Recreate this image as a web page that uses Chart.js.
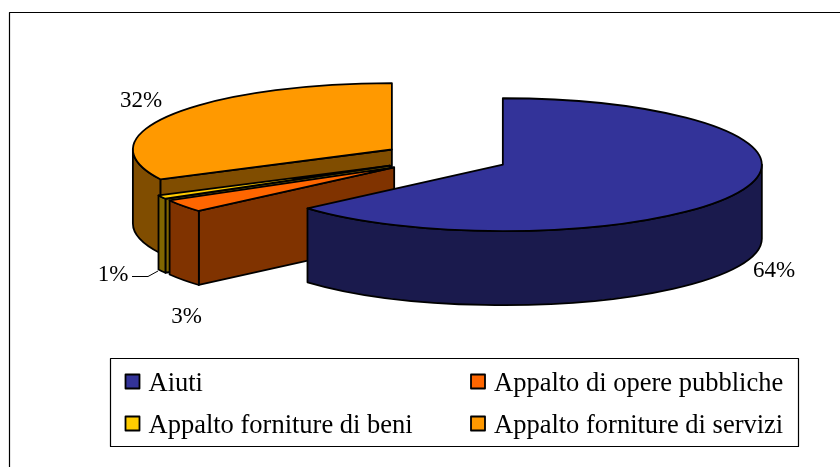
<!DOCTYPE html>
<html lang="it">
<head>
    <meta charset="UTF-8">
    <title>Ripartizione per tipologia</title>
    <script src="https://cdn.jsdelivr.net/npm/chart.js"></script>
    <style>
        html, body { margin: 0; padding: 0; background: #fff; }
        canvas { display: block; }
    </style>
</head>
<body>
    <canvas id="pieChart" width="840" height="467"></canvas>

    <script>
        const categories = ['Aiuti', 'Appalto di opere pubbliche', 'Appalto forniture di beni', 'Appalto forniture di servizi'];
        const values = [63.6, 3.1, 0.9, 32.4];
        const topColors = ['#333399', '#FF6600', '#FFCC00', '#FF9900'];
        const sideColors = ['#1A1A4D', '#803300', '#806600', '#804D00'];

        // aspetto 3D
        const squash = 0.2565;
        const depth = 74;
        const explode = 63;
        const drawOrder = [3, 2, 1, 0];

        const font = '"Liberation Serif", serif';
        const total = values.reduce((a, b) => a + b, 0);

        // posizione delle etichette percentuali (centro del testo)
        const labelPos = [[774, 271], [186.5, 317], [113, 275], [141, 101]];
        const legendPos = [[125.5, 374.5], [471, 374.5], [125.5, 416.5], [471, 416.5]];

        function drawSlice(ctx, arc, i) {
            const r = arc.outerRadius, ry = r * squash;
            const a0 = arc.startAngle, a1 = arc.endAngle;
            const mid = (a0 + a1) / 2;
            const cx = arc.x + Math.cos(mid) * explode;
            const cy = arc.y + Math.sin(mid) * explode * squash;
            const px = a => cx + Math.cos(a) * r;
            const py = a => cy + Math.sin(a) * ry;

            ctx.lineWidth = 1.8;
            ctx.lineJoin = 'round';
            ctx.strokeStyle = '#000';
            ctx.fillStyle = sideColors[i];

            // faccia radiale verso l'osservatore
            if (Math.sin(a0 - Math.PI / 2) > 0.001) {
                ctx.beginPath();
                ctx.moveTo(cx, cy);
                ctx.lineTo(px(a0), py(a0));
                ctx.lineTo(px(a0), py(a0) + depth);
                ctx.lineTo(cx, cy + depth);
                ctx.closePath();
                ctx.fill();
                ctx.stroke();
            }

            // parete esterna, solo la parte anteriore
            const w0 = Math.max(a0, 0), w1 = Math.min(a1, Math.PI);
            if (w1 > w0) {
                ctx.beginPath();
                ctx.ellipse(cx, cy, r, ry, 0, w0, w1);
                ctx.lineTo(px(w1), py(w1) + depth);
                ctx.ellipse(cx, cy + depth, r, ry, 0, w1, w0, true);
                ctx.closePath();
                ctx.fill();
                ctx.stroke();
            }

            // faccia superiore: la disegna l'elemento arc di Chart.js, schiacciato
            ctx.save();
            ctx.translate(cx, cy);
            ctx.scale(1, squash);
            ctx.translate(-arc.x, -arc.y);
            arc.draw(ctx);
            ctx.restore();

            ctx.beginPath();
            ctx.moveTo(cx, cy);
            ctx.ellipse(cx, cy, r, ry, 0, a0, a1);
            ctx.closePath();
            ctx.stroke();
        }

        const pie3d = {
            id: 'pie3d',
            beforeDatasetsDraw(chart) {
                const arcs = chart.getDatasetMeta(0).data;
                drawOrder.forEach(i => drawSlice(chart.ctx, arcs[i], i));
                return false;
            },
            afterDraw(chart) {
                const ctx = chart.ctx;
                ctx.save();

                // cornice esterna
                ctx.strokeStyle = '#000';
                ctx.lineWidth = 1.2;
                ctx.beginPath();
                ctx.moveTo(9.5, 467);
                ctx.lineTo(9.5, 12.5);
                ctx.lineTo(840, 12.5);
                ctx.stroke();

                // etichette
                ctx.fillStyle = '#000';
                ctx.font = '23px ' + font;
                ctx.textAlign = 'center';
                ctx.textBaseline = 'middle';
                values.forEach((v, i) => {
                    ctx.fillText(Math.round(v / total * 100) + '%', labelPos[i][0], labelPos[i][1]);
                });

                // linea guida di "1%"
                ctx.lineWidth = 1;
                ctx.beginPath();
                ctx.moveTo(132, 276.5);
                ctx.lineTo(148, 276.5);
                ctx.lineTo(158, 271);
                ctx.stroke();

                // legenda
                ctx.lineWidth = 1.2;
                ctx.strokeRect(110.5, 358.5, 688, 88);
                ctx.textAlign = 'left';
                ctx.textBaseline = 'alphabetic';
                ctx.font = '26.5px ' + font;
                categories.forEach((name, i) => {
                    const [x, y] = legendPos[i];
                    ctx.fillStyle = topColors[i];
                    ctx.lineWidth = 1.8;
                    ctx.fillRect(x, y, 14, 14);
                    ctx.strokeRect(x, y, 14, 14);
                    ctx.fillStyle = '#000';
                    ctx.fillText(name, x + 23, y + 16);
                });

                ctx.restore();
            }
        };

        new Chart(document.getElementById('pieChart').getContext('2d'), {
            type: 'pie',
            data: {
                labels: categories,
                datasets: [{
                    data: values,
                    backgroundColor: topColors,
                    borderWidth: 0,
                    radius: 259
                }]
            },
            options: {
                responsive: false,
                animation: false,
                layout: { padding: { left: 51, right: 0, top: 2, bottom: 153 } },
                plugins: {
                    legend: { display: false },
                    tooltip: { enabled: false }
                }
            },
            plugins: [pie3d]
        });
    </script>
</body>
</html>
